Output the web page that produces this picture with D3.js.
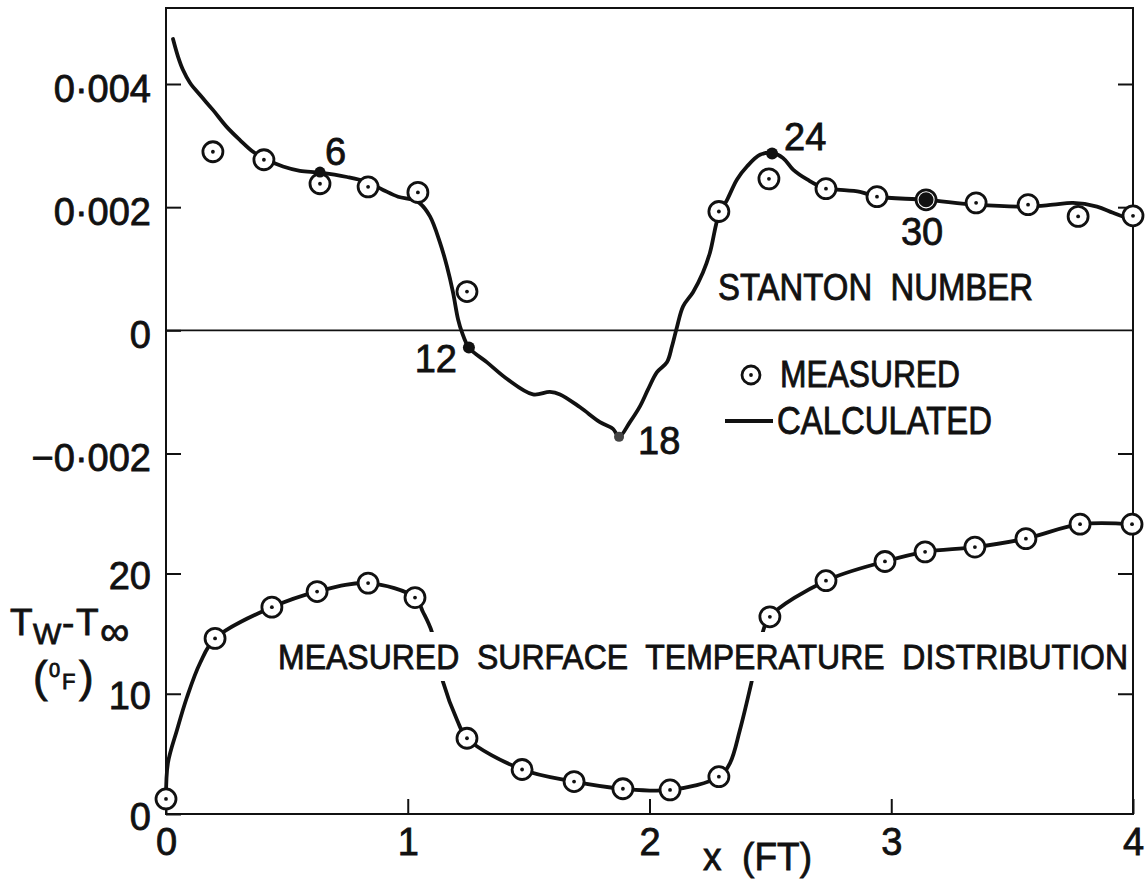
<!DOCTYPE html>
<html>
<head>
<meta charset="utf-8">
<script src="https://cdn.jsdelivr.net/npm/d3@7"></script>
<style>
  html, body { margin: 0; padding: 0; background: #fff; }
  svg { display: block; }
  text { font-family: "Liberation Sans", Arial, sans-serif; fill: #111; stroke: #111; stroke-width: 0.8px; }
</style>
</head>
<body>
<svg id="chart" width="1147" height="883"></svg>
<script>
// ---------------- DATA ----------------
const xTicks = [0, 1, 2, 3, 4];
const stTicks = [-0.002, 0, 0.002, 0.004];
const stTickLabels = ["\u22120\u00b7002", "0", "0\u00b7002", "0\u00b7004"];
const tTicks = [0, 10, 20];
const tTickLabels = ["0", "10", "20"];

// Stanton number, measured
const stMeasX = [0.194, 0.405, 0.637, 0.836, 1.042, 1.245, 2.287, 2.494, 2.730, 2.941, 3.144, 3.351, 3.566, 3.773, 4.000];
const stMeasY = [0.00290, 0.00277, 0.00238, 0.00233, 0.00224, 0.00063, 0.00193, 0.00246, 0.00230, 0.00217, 0.00212, 0.00207, 0.00204, 0.00185, 0.00186];

// Stanton number, calculated (traced curve)
const calcX = [0.029,0.050,0.070,0.099,0.141,0.194,0.252,0.306,0.360,0.418,
               0.484,0.554,0.637,0.749,0.831,0.898,0.960,1.022,1.051,1.092,
               1.133,1.162,1.187,1.208,1.224,1.253,1.328,1.411,1.518,1.588,
               1.630,1.713,1.795,1.849,1.874,1.919,1.961,1.994,2.031,2.072,
               2.093,2.114,2.139,2.180,2.221,2.250,2.287,2.321,2.362,2.403,
               2.457,2.507,2.552,2.594,2.652,2.718,2.871,2.941,3.144,3.351,
               3.566,3.669,3.752,3.851,3.917,3.975,4.000];
const calcY = [0.00473,0.00444,0.00423,0.00402,0.00382,0.00358,0.00330,0.00309,0.00290,0.00277,
               0.00266,0.00259,0.00256,0.00249,0.00241,0.00228,0.00217,0.00212,0.00206,0.00185,
               0.00143,0.00104,0.00062,0.00018,-0.00003,-0.00028,-0.00052,-0.00079,-0.00104,-0.00100,
               -0.00104,-0.00125,-0.00149,-0.00160,-0.00173,-0.00149,-0.00123,-0.00096,-0.00068,-0.00052,
               -0.00026,0.00006,0.00039,0.00062,0.00094,0.00126,0.00188,0.00212,0.00245,0.00266,
               0.00285,0.00288,0.00280,0.00261,0.00245,0.00232,0.00225,0.00217,0.00212,0.00204,
               0.00201,0.00204,0.00207,0.00201,0.00191,0.00183,0.00185];

// Station markers on the calculated curve
const stationX = [0.637, 1.253, 1.874, 2.507, 3.144];
const stationY = [0.00257, -0.00028, -0.00173, 0.00287, 0.00212];
const stationLabels = ["6", "12", "18", "24", "30"];

// Surface temperature, measured
const tMeasX = [0, 0.203, 0.438, 0.625, 0.836, 1.03, 1.245, 1.473, 1.688, 1.89, 2.085, 2.287, 2.498, 2.73, 2.974, 3.14, 3.346, 3.557, 3.781, 3.996];
const tMeasY = [1.25, 14.6, 17.2, 18.5, 19.2, 18.0, 6.3, 3.7, 2.7, 2.1, 2.0, 3.1, 16.4, 19.4, 21.0, 21.8, 22.2, 22.9, 24.1, 24.1];

// Surface temperature faired curve (traced)
const tCurveX = [0, 0.008, 0.0455, 0.087, 0.141, 0.203, 0.438, 0.625, 0.836, 1.03, 1.063, 1.100, 1.146, 1.204, 1.245, 1.473, 1.688, 1.89, 2.085, 2.287, 2.333, 2.374, 2.424, 2.465, 2.498, 2.73, 2.974, 3.14, 3.346, 3.557, 3.781, 3.996];
const tCurveY = [1.25, 4.24, 6.99, 9.73, 12.56, 14.6, 17.2, 18.5, 19.2, 18.0, 16.8, 15.13, 10.98, 7.82, 6.3, 3.7, 2.7, 2.1, 2.0, 3.1, 4.24, 6.99, 11.14, 14.89, 16.4, 19.4, 21.0, 21.8, 22.2, 22.9, 24.1, 24.1];

// ---------------- LAYOUT ----------------
const L = 166, R = 1133, T = 8, B = 814;
const svg = d3.select("#chart");

const x = d3.scaleLinear().domain([0, 4]).range([L, R]);
const yS = d3.scaleLinear().domain([-0.002, 0.004]).range([453.5, 84]);
const yT = d3.scaleLinear().domain([0, 20]).range([B, 573.5]);

const ink = "#111";

// Frame
svg.append("rect").attr("x", L).attr("y", T).attr("width", R - L).attr("height", B - T)
  .attr("fill", "none").attr("stroke", ink).attr("stroke-width", 2);

// Zero line of Stanton number
svg.append("line").attr("x1", L).attr("x2", R).attr("y1", yS(0)).attr("y2", yS(0))
  .attr("stroke", ink).attr("stroke-width", 1.6);

function styleAxis(g) {
  g.select(".domain").remove();
  g.selectAll(".tick line").attr("stroke", ink).attr("stroke-width", 2);
  g.selectAll(".tick text").attr("font-size", 38).attr("font-family", '"Liberation Sans", Arial, sans-serif').attr("fill", ink);
}

// Left axis - Stanton
const gSL = svg.append("g").attr("transform", `translate(${L},0)`)
  .call(d3.axisLeft(yS).tickValues(stTicks).tickSize(-15).tickPadding(15)
    .tickFormat((d, i) => stTickLabels[i]));
styleAxis(gSL);
gSL.selectAll(".tick text").attr("dy", 17);

// Left axis - temperature
const gTL = svg.append("g").attr("transform", `translate(${L},0)`)
  .call(d3.axisLeft(yT).tickValues(tTicks).tickSize(-15).tickPadding(15)
    .tickFormat((d, i) => tTickLabels[i]));
styleAxis(gTL);
gTL.selectAll(".tick text").attr("dy", 15);

// Right axis ticks
const gSR = svg.append("g").attr("transform", `translate(${R},0)`)
  .call(d3.axisRight(yS).tickValues([-0.002, 0.002, 0.004]).tickSize(-15).tickFormat(""));
styleAxis(gSR);
const gTR = svg.append("g").attr("transform", `translate(${R},0)`)
  .call(d3.axisRight(yT).tickValues([10, 20]).tickSize(-15).tickFormat(""));
styleAxis(gTR);

// Bottom axis
const gB = svg.append("g").attr("transform", `translate(0,${B})`)
  .call(d3.axisBottom(x).tickValues(xTicks).tickSize(-15).tickPadding(0).tickFormat(d3.format("d")));
styleAxis(gB);
gB.selectAll(".tick text").attr("dy", 41).attr("y", 0);

// ---------------- CURVES ----------------
const calcLine = d3.line().x((d) => x(d[0])).y((d) => yS(d[1])).curve(d3.curveCatmullRom.alpha(0.5));
svg.append("path").datum(calcX.map((v, i) => [v, calcY[i]]))
  .attr("d", calcLine).attr("fill", "none").attr("stroke", ink)
  .attr("stroke-width", 3.8).attr("stroke-linejoin", "round").attr("stroke-linecap", "round");

const tLine = d3.line().x((d) => x(d[0])).y((d) => yT(d[1])).curve(d3.curveCatmullRom.alpha(0.5));
svg.append("path").datum(tCurveX.map((v, i) => [v, tCurveY[i]]))
  .attr("d", tLine).attr("fill", "none").attr("stroke", ink)
  .attr("stroke-width", 3.8).attr("stroke-linejoin", "round").attr("stroke-linecap", "round");

// Measured circles
function measured(sel, xs, ys, ysc) {
  const g = sel.append("g");
  const pts = xs.map((v, i) => [v, ys[i]]);
  g.selectAll("circle.ring").data(pts).join("circle").attr("class", "ring")
    .attr("cx", (d) => x(d[0])).attr("cy", (d) => ysc(d[1])).attr("r", 10)
    .attr("fill", "#fff").attr("stroke", ink).attr("stroke-width", 2.8);
  g.selectAll("circle.dot").data(pts).join("circle").attr("class", "dot")
    .attr("cx", (d) => x(d[0])).attr("cy", (d) => ysc(d[1])).attr("r", 1.9).attr("fill", ink);
}
measured(svg, stMeasX, stMeasY, yS);
measured(svg, tMeasX, tMeasY, yT);

// Station markers
const stationR = [5.5, 6, 5, 6, 7.5];
const stationFill = [ink, ink, "#444", ink, ink];
svg.append("g").selectAll("circle").data(stationX).join("circle")
  .attr("cx", (d) => x(d)).attr("cy", (d, i) => yS(stationY[i]))
  .attr("r", (d, i) => stationR[i]).attr("fill", (d, i) => stationFill[i]);

// Station labels (offsets relative to the marker)
const labOff = [[5, -7, "start"], [-12, 24, "end"], [19, 17, "start"], [12, -4, "start"], [-4, 45, "middle"]];
svg.append("g").selectAll("text").data(stationLabels).join("text")
  .attr("x", (d, i) => x(stationX[i]) + labOff[i][0])
  .attr("y", (d, i) => yS(stationY[i]) + labOff[i][1])
  .attr("text-anchor", (d, i) => labOff[i][2])
  .attr("font-size", 38)
  .text((d) => d);

// ---------------- TEXT LABELS ----------------
// fit a text to a given width and cap height
function label(txt, x0, y0, len, capH) {
  const t = svg.append("text").attr("font-size", 100)
    .attr("xml:space", "preserve").style("white-space", "pre").text(txt);
  const w = t.node().getComputedTextLength();
  const fs = 100 * len / w;
  const sy = capH / (0.729 * fs);
  t.attr("font-size", fs)
    .attr("transform", `translate(${x0},${y0}) scale(1,${sy})`)
    .attr("textLength", len).attr("lengthAdjust", "spacingAndGlyphs")
    .style("stroke-width", (0.8 / Math.sqrt(sy)) + "px");
  return t;
}

label("STANTON  NUMBER", 718, 300, 315, 27);

// legend
svg.append("circle").attr("cx", 751).attr("cy", 375).attr("r", 9).attr("fill", "#fff").attr("stroke", ink).attr("stroke-width", 2.8);
svg.append("circle").attr("cx", 751).attr("cy", 375).attr("r", 1.9).attr("fill", ink);
label("MEASURED", 780, 387, 180, 27);
svg.append("line").attr("x1", 725).attr("x2", 773).attr("y1", 421).attr("y2", 421).attr("stroke", ink).attr("stroke-width", 3.8);
label("CALCULATED", 777, 434, 215, 28);

// white band behind the temperature caption (interrupts the curve)
svg.append("rect").attr("x", 274).attr("y", 632).attr("width", 856).attr("height", 49).attr("fill", "#fff");
label("MEASURED  SURFACE  TEMPERATURE  DISTRIBUTION", 278, 669, 850, 26);

// x-axis title
label("x  (FT)", 703, 870, 109, 28);

// y-axis title for temperature (one text element, tspans)
const yt = svg.append("text");
yt.append("tspan").attr("x", 10).attr("y", 635).attr("font-size", 37).text("T");
yt.append("tspan").attr("x", 33).attr("y", 644).attr("font-size", 30).text("W");
yt.append("tspan").attr("x", 62).attr("y", 635).attr("font-size", 37).text("-");
yt.append("tspan").attr("x", 76).attr("y", 635).attr("font-size", 37).text("T");
yt.append("tspan").attr("x", 100).attr("y", 645).attr("font-size", 41).text("\u221e");
const yt2 = svg.append("text");
yt2.append("tspan").attr("x", 33).attr("y", 692).attr("font-size", 44).text("(");
yt2.append("tspan").attr("x", 49).attr("y", 677).attr("font-size", 20).text("0");
yt2.append("tspan").attr("x", 62).attr("y", 689).attr("font-size", 22).text("F");
yt2.append("tspan").attr("x", 79).attr("y", 692).attr("font-size", 44).text(")");
</script>
</body>
</html>
